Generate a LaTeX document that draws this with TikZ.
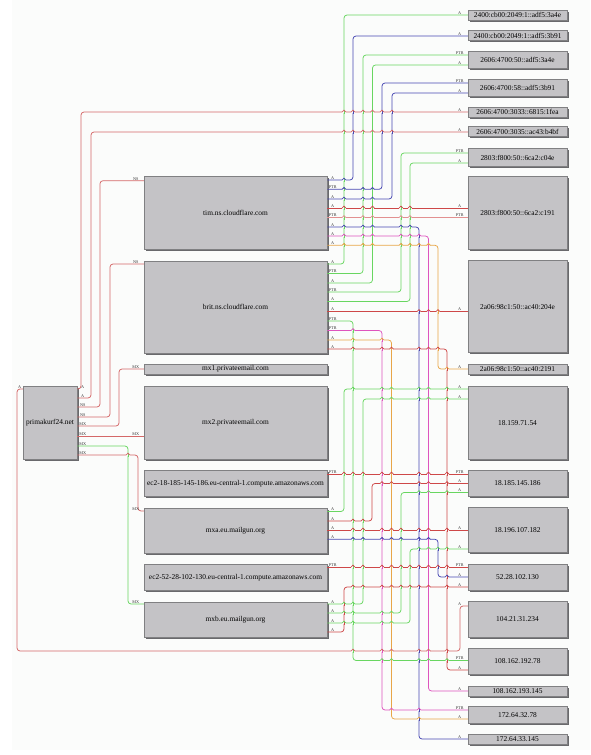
\documentclass[tikz,border=0pt]{standalone}
\usepackage{fontspec}
\setmainfont{Liberation Serif}
\usepackage{xcolor}
\usetikzlibrary{shadows}

\definecolor{boxfill}{RGB}{196,195,198}
\definecolor{boxline}{RGB}{128,128,130}
\definecolor{boxshade}{RGB}{105,105,108}
\definecolor{paper}{RGB}{251,252,251}
\definecolor{cgreen}{RGB}{104,214,96}
\definecolor{cblue}{RGB}{72,72,178}
\definecolor{cred}{RGB}{206,72,72}
\definecolor{cpink}{RGB}{226,144,144}
\definecolor{cmag}{RGB}{222,84,190}
\definecolor{corange}{RGB}{232,166,72}
\definecolor{lred}{RGB}{212,104,104}

\tikzset{
  host/.style={draw=boxline, fill=boxfill, line width=0.5pt, inner sep=0pt,
    font=\fontsize{7.4}{8}\selectfont,
    drop shadow={shadow xshift=1.6pt, shadow yshift=-1.6pt, fill=boxshade, opacity=1}},
  ipbox/.style={host, minimum width=99},
  namebox/.style={host, minimum width=183},
  wire/.style={line width=0.75pt, rounded corners=3pt},
  tag/.style={font=\fontsize{4.2}{4.5}\selectfont, inner sep=0.4pt, anchor=south, text=black!80},
}

\newdimen\wa
\newdimen\wb
\def\hsegs{-999/0/0/black}
\def\vsegs{-999/0/0/black}

% edge with one vertical run: colour, source, y at source, x of run, target, y at target, tags
\newcommand{\route}[8]{%
  \draw[wire,#1] (#2.east |- 0,#3) -| (#4,#6) -- (#5.west |- 0,#6);
  \node[tag] at ([xshift=5.5pt]#2.east |- 0,#3) {#7};
  \node[tag] at ([xshift=-8pt]#5.west |- 0,#6) {#8};
  \pgfextractx{\wa}{\pgfpointanchor{#2}{east}}%
  \pgfextractx{\wb}{\pgfpointanchor{#5}{west}}%
  \xdef\hsegs{\hsegs,#3/\the\wa/#4/#1,#6/#4/\the\wb/#1}%
  \xdef\vsegs{\vsegs,#4/#3/#6/#1}%
}
% straight edge
\newcommand{\direct}[6]{%
  \draw[wire,#1] (#2.east |- 0,#3) -- (#4.west |- 0,#3);
  \node[tag] at ([xshift=5.5pt]#2.east |- 0,#3) {#5};
  \node[tag] at ([xshift=-8pt]#4.west |- 0,#3) {#6};
  \pgfextractx{\wa}{\pgfpointanchor{#2}{east}}%
  \pgfextractx{\wb}{\pgfpointanchor{#4}{west}}%
  \xdef\hsegs{\hsegs,#3/\the\wa/\the\wb/#1}%
}

\begin{document}
\begin{tikzpicture}[x=1pt, y=-1pt]
  \useasboundingbox (0,0) rectangle (590,755);
  \fill[paper] (12,0) rectangle (590,750);

  % Addresses
  \node[ipbox, minimum height=10] (r1) at (517.5,15) {2400:cb00:2049:1::adf5:3a4e};
  \node[ipbox, minimum height=10] (r2) at (517.5,35.7) {2400:cb00:2049:1::adf5:3b91};
  \node[ipbox, minimum height=16.6] (r3) at (517.5,60) {2606:4700:50::adf5:3a4e};
  \node[ipbox, minimum height=17.4] (r4) at (517.5,88) {2606:4700:58::adf5:3b91};
  \node[ipbox, minimum height=10] (r5) at (517.5,112.3) {2606:4700:3033::6815:1fea};
  \node[ipbox, minimum height=10] (r6) at (517.5,131.7) {2606:4700:3035::ac43:b4bf};
  \node[ipbox, minimum height=18.4] (r7) at (517.5,157.5) {2803:f800:50::6ca2:c04e};
  \node[ipbox, minimum height=72.6] (r8) at (517.5,213) {2803:f800:50::6ca2:c191};
  \node[ipbox, minimum height=92] (r9) at (517.5,306.7) {2a06:98c1:50::ac40:204e};
  \node[ipbox, minimum height=10] (r10) at (517.5,369) {2a06:98c1:50::ac40:2191};
  \node[ipbox, minimum height=73.3] (r11) at (517.5,422.7) {18.159.71.54};
  \node[ipbox, minimum height=26.7] (r12) at (517.5,483.3) {18.185.145.186};
  \node[ipbox, minimum height=45] (r13) at (517.5,530.2) {18.196.107.182};
  \node[ipbox, minimum height=26.7] (r14) at (517.5,577.3) {52.28.102.130};
  \node[ipbox, minimum height=35.6] (r15) at (517.5,619.5) {104.21.31.234};
  \node[ipbox, minimum height=26] (r16) at (517.5,661.3) {108.162.192.78};
  \node[ipbox, minimum height=10] (r17) at (517.5,691) {108.162.193.145};
  \node[ipbox, minimum height=16.6] (r18) at (517.5,715) {172.64.32.78};
  \node[ipbox, minimum height=10] (r19) at (517.5,739) {172.64.33.145};

  % Hosts
  \node[namebox, minimum height=73] (tim) at (235.5,212.5) {tim.ns.cloudflare.com};
  \node[namebox, minimum height=92] (brit) at (235.5,307) {brit.ns.cloudflare.com};
  \node[namebox, minimum height=10] (mx1) at (235.5,369) {mx1.privateemail.com};
  \node[namebox, minimum height=73] (mx2) at (235.5,422.5) {mx2.privateemail.com};
  \node[namebox, minimum height=26.5] (ec18) at (235.5,483.3) {ec2-18-185-145-186.eu-central-1.compute.amazonaws.com};
  \node[namebox, minimum height=45] (mxa) at (235.5,530.5) {mxa.eu.mailgun.org};
  \node[namebox, minimum height=26.5] (ec52) at (235.5,577.3) {ec2-52-28-102-130.eu-central-1.compute.amazonaws.com};
  \node[namebox, minimum height=35] (mxb) at (235.5,619.5) {mxb.eu.mailgun.org};

  % Domain
  \node[host, minimum width=54, minimum height=73] (dom) at (50,422.5) {primakurf24.net};

  % Domain records
  \route{lred}{dom}{389}{81}{r5}{112}{A}{A}
  \route{lred}{dom}{398}{91}{r6}{132}{A}{A}
  \route{lred}{dom}{407}{100}{tim}{180.7}{NS}{NS}
  \route{lred}{dom}{417}{110}{brit}{264}{NS}{NS}
  \route{lred}{dom}{426}{119}{mx1}{369}{MX}{MX}
  \direct{lred}{dom}{436}{mx2}{MX}{MX}
  \route{cgreen}{dom}{446}{128}{mxb}{604}{MX}{MX}
  \route{lred}{dom}{455}{138}{mxa}{511}{MX}{MX}
  \draw[wire,lred] (dom.west |- 0,389) -| (17,651) -| (460,606) -- (r15.west |- 0,606);
  \node[tag] at ([xshift=-3pt]dom.west |- 0,389) {A};
  \node[tag] at ([xshift=-8pt]r15.west |- 0,606) {A};
  \xdef\hsegs{\hsegs,651/17/460/lred}
  \xdef\vsegs{\vsegs,460/651/606/lred}

  % tim
  \route{cblue}{tim}{180}{353}{r2}{36}{A}{A}
  \route{cblue}{tim}{189.3}{382}{r4}{83}{PTR}{PTR}
  \route{cblue}{tim}{199}{392}{r4}{93}{A}{A}
  \direct{cred}{tim}{208}{r8}{A}{A}
  \direct{cpink}{tim}{217.5}{r8}{PTR}{PTR}
  \route{cblue}{tim}{227}{419}{r19}{739}{A}{A}
  \route{cmag}{tim}{236}{428.5}{r17}{691}{A}{A}
  \route{corange}{tim}{245.3}{438}{r10}{369}{A}{A}

  % brit
  \route{cgreen}{brit}{264}{344}{r1}{15}{A}{A}
  \route{cgreen}{brit}{273.5}{363}{r3}{55}{PTR}{PTR}
  \route{cgreen}{brit}{283}{372.5}{r3}{65}{A}{A}
  \route{cgreen}{brit}{292}{401}{r7}{153}{PTR}{PTR}
  \route{cgreen}{brit}{301.5}{410}{r7}{163}{A}{A}
  \direct{cred}{brit}{311.5}{r9}{A}{A}
  \route{cgreen}{brit}{321}{353}{r16}{660.5}{PTR}{PTR}
  \route{cmag}{brit}{330.5}{382}{r18}{710}{PTR}{PTR}
  \route{corange}{brit}{340}{391.5}{r18}{719}{A}{A}
  \route{cred}{brit}{349}{447}{r16}{670}{A}{A}

  % mail
  \direct{cred}{ec18}{474}{r12}{PTR}{PTR}
  \route{cgreen}{mxa}{511.5}{344}{r11}{389}{A}{A}
  \route{cred}{mxa}{521}{372}{r12}{483.5}{A}{A}
  \direct{cred}{mxa}{530}{r13}{A}{A}
  \route{cblue}{mxa}{539.3}{438}{r14}{577}{A}{A}
  \direct{cred}{ec52}{567}{r14}{PTR}{PTR}
  \route{cgreen}{mxb}{604}{363}{r11}{399}{A}{A}
  \route{cgreen}{mxb}{613}{401}{r12}{492.5}{A}{A}
  \route{cgreen}{mxb}{623}{410}{r13}{549}{A}{A}
  \route{cred}{mxb}{632}{344}{r14}{587}{A}{A}

  % Hops where lines cross
  \foreach \hy/\ha/\hb/\hc in \hsegs {
    \foreach \vx/\va/\vb/\vc in \vsegs {
      \pgfmathparse{(\vx>\ha+1)*(\vx<\hb-1)*(\hy>min(\va,\vb)+1)*(\hy<max(\va,\vb)-1)}
      \ifdim\pgfmathresult pt>0.5pt
        \draw[paper, line width=1.5pt] (\vx-1.8,\hy) -- (\vx+1.8,\hy);
        \draw[\vc, line width=0.75pt] (\vx,\hy-2) -- (\vx,\hy+2);
        \draw[\hc, line width=0.75pt] (\vx-1.8,\hy) arc[start angle=180, end angle=0, radius=1.8pt];
      \fi
    }
  }
\end{tikzpicture}
\end{document}
